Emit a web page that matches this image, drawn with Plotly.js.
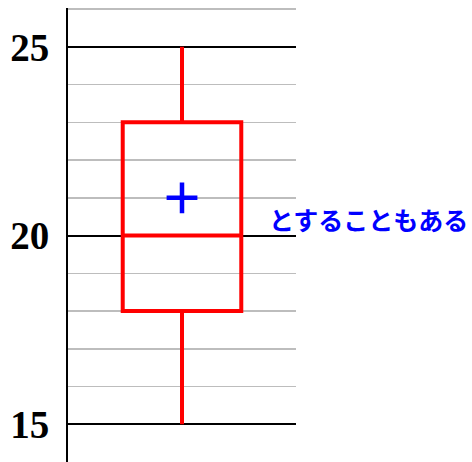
<!DOCTYPE html>
<html>
<head>
<meta charset="utf-8">
<script src="https://cdn.plot.ly/plotly-3.0.1.min.js"></script>
<style>
  body { margin: 0; background: #fff; }
  #chart { width: 472px; height: 462px; }
</style>
</head>
<body>
<div id="chart"></div>
<script>
// five-number summary and mean
let lowerFence = [15]
let q1 = [18]
let median = [20]
let q3 = [23]
let upperFence = [25]
let mean = [21]
let yTicks = [15, 20, 25]
let note = "とすることもある"

let box = {
    type: "box",
    x: [0],
    q1: q1,
    median: median,
    q3: q3,
    lowerfence: lowerFence,
    upperfence: upperFence,
    width: 0.52,
    whiskerwidth: 0,
    fillcolor: "rgba(0,0,0,0)",
    line: {color: "#ff0000", width: 4},
    hoverinfo: "skip",
    showlegend: false
}

let meanMark = {
    type: "scatter",
    mode: "markers",
    x: [0],
    y: mean,
    marker: {symbol: "cross-thin", size: 22, color: "#0000ff", line: {color: "#0000ff", width: 4.5}},
    cliponaxis: false,
    showlegend: false
}

let layout = {
    width: 472,
    height: 462,
    margin: {l: 68, r: 176, t: 8, b: 0},
    paper_bgcolor: "#fff",
    plot_bgcolor: "#fff",
    showlegend: false,
    xaxis: {
        range: [-0.5, 0.5],
        visible: false,
        fixedrange: true
    },
    yaxis: {
        range: [14, 26.03],
        tickvals: yTicks,
        ticktext: yTicks.map(String),
        ticks: "",
        ticklabelstandoff: 9,
        tickfont: {family: "Liberation Serif", size: 39, color: "#000", weight: "bold"},
        showline: true,
        linecolor: "#000",
        linewidth: 2,
        showgrid: true,
        gridcolor: "#000",
        gridwidth: 2,
        zeroline: false,
        automargin: false,
        minor: {dtick: 1, tick0: 0, showgrid: true, gridcolor: "#bdbdbd", gridwidth: 1.5}
    },
    annotations: [{
        text: note,
        xref: "paper",
        yref: "y",
        x: 0.872,
        y: 20.45,
        xanchor: "left",
        yanchor: "middle",
        showarrow: false,
        font: {family: "Noto Sans CJK JP", size: 25, color: "#0000ff", weight: "bold"}
    }]
}

Plotly.newPlot("chart", [box, meanMark], layout, {displayModeBar: false, staticPlot: true})
</script>
</body>
</html>
